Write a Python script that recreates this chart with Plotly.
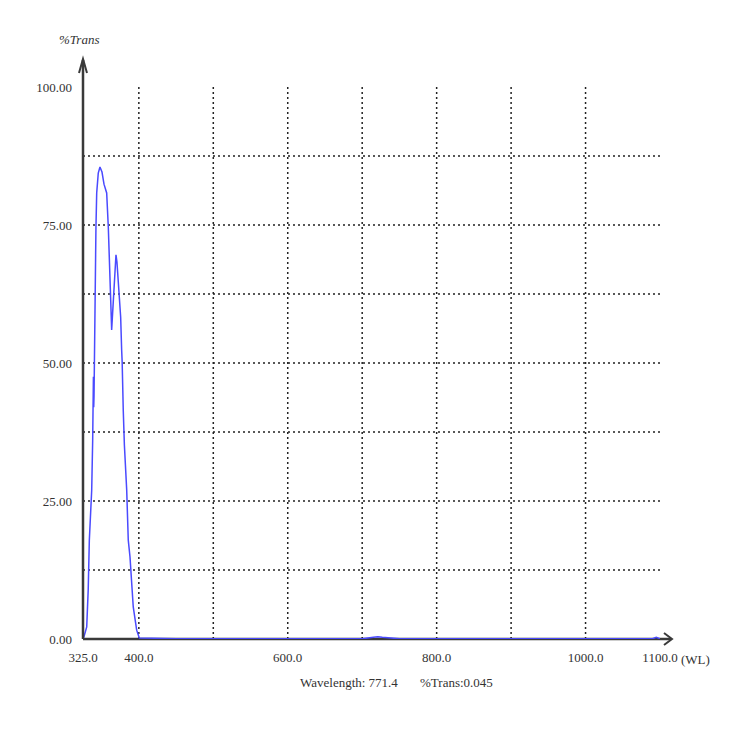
import plotly.graph_objects as go

# ---- data ----
wavelength = [325, 326.3, 330, 332, 333.5, 336.7, 338, 338.4, 339, 339.4, 339.8, 340.3,
              341.1, 342, 342.4, 343.4, 345.5, 347.8, 350.5, 353.2, 354.5, 356.8, 359,
              360.3, 362.2, 363.5, 365.7, 368, 369.3, 370.6, 372.4, 375.6, 376.9, 377.6,
              379.1, 380.6, 383.7, 385.8, 388.1, 392.5, 397.1, 400.6,
              450, 500, 550, 600, 650, 700, 715, 721, 727, 750, 800, 850, 900, 950,
              1000, 1050, 1090, 1095, 1100]
trans = [0.0, 0.4, 2.2, 8.9, 17.9, 27.0, 36.0, 41.5, 47.5, 42.0, 44.0, 53.4,
         58.5, 68.8, 74.6, 80.8, 84.4, 85.5, 84.6, 82.4, 81.9, 80.8, 74.6,
         70.5, 61.4, 56.0, 61.4, 68.7, 69.6, 68.3, 64.5, 58.3, 52.4, 50.2,
         41.3, 35.1, 27.0, 17.9, 14.9, 5.8, 1.6, 0.2,
         0.05, 0.04, 0.05, 0.04, 0.05, 0.05, 0.3, 0.4, 0.3, 0.05, 0.04, 0.05, 0.04, 0.05,
         0.05, 0.05, 0.05, 0.3, 0.05]

x_tick_vals = [325, 400, 600, 800, 1000, 1100]
x_tick_text = ["325.0", "400.0", "600.0", "800.0", "1000.0", "1100.0"]
y_tick_vals = [0, 25, 50, 75, 100]
y_tick_text = ["0.00", "25.00", "50.00", "75.00", "100.00"]
grid_x = [400, 500, 600, 700, 800, 900, 1000]
grid_y = [12.5, 25, 37.5, 50, 62.5, 75, 87.5]

y_title = "%Trans"
x_unit = "(WL)"
status_wl = "Wavelength: 771.4"
status_tr = "%Trans:0.045"

# ---- geometry (page pixels; the page body adds an 8px offset) ----
OFF = 8
W = H = 742
# plot area on page: x 83..660, y 87..639
L, T = 83 - OFF, 87 - OFF
R = W - (660 - OFF)
B = H - (639 - OFF)
PW, PH = W - L - R, H - T - B


def px(xp):
    return (xp - OFF - L) / PW


def py(yp):
    return (H - B - (yp - OFF)) / PH


FONT = "Liberation Serif"
TXT = "#333333"

fig = go.Figure()
fig.add_trace(go.Scatter(x=wavelength, y=trans, mode="lines",
                         line=dict(color="#4a4aff", width=1.5),
                         hoverinfo="skip", showlegend=False))

shapes = []
for gx in grid_x:
    shapes.append(dict(type="line", xref="x", yref="y", x0=gx, x1=gx, y0=0, y1=100,
                       line=dict(color="#222222", width=1.5, dash="2px,3px"), layer="below"))
for gy in grid_y:
    shapes.append(dict(type="line", xref="x", yref="y", x0=325, x1=1100, y0=gy, y1=gy,
                       line=dict(color="#222222", width=1.5, dash="2px,3px"), layer="below"))

AX = "#3a3a3a"
# y axis line with arrow
shapes.append(dict(type="line", xref="paper", yref="paper", x0=0, x1=0, y0=0, y1=py(60),
                   line=dict(color=AX, width=2.5)))
shapes.append(dict(type="path", xref="paper", yref="paper",
                   path=f"M {px(79)} {py(73)} L {px(83)} {py(59)} L {px(87)} {py(73)}",
                   line=dict(color=AX, width=2)))
# x axis line with arrow
shapes.append(dict(type="line", xref="paper", yref="paper", x0=0, x1=px(671), y0=0, y1=0,
                   line=dict(color=AX, width=2.5), layer="below"))
shapes.append(dict(type="path", xref="paper", yref="paper",
                   path=f"M {px(664)} {py(633)} L {px(672)} {py(639)} L {px(664)} {py(645)}",
                   line=dict(color=AX, width=2)))

annotations = [
    dict(text=f"<i>{y_title}</i>", xref="paper", yref="paper", x=px(79), y=py(40),
         xanchor="center", yanchor="middle",
         showarrow=False, font=dict(family=FONT, size=13, color=TXT)),
    dict(text=x_unit, xref="paper", yref="paper", x=px(679), y=py(659),
         xanchor="left", yanchor="middle",
         showarrow=False, font=dict(family=FONT, size=13, color=TXT)),
    dict(text=status_wl, xref="paper", yref="paper", x=px(298), y=py(682),
         xanchor="left", yanchor="middle",
         showarrow=False, font=dict(family=FONT, size=13, color=TXT)),
    dict(text=status_tr, xref="paper", yref="paper", x=px(418), y=py(682),
         xanchor="left", yanchor="middle",
         showarrow=False, font=dict(family=FONT, size=13, color=TXT)),
]

fig.update_layout(
    width=W, height=H,
    margin=dict(l=L, r=R, t=T, b=B, pad=0),
    paper_bgcolor="white", plot_bgcolor="white",
    showlegend=False,
    shapes=shapes, annotations=annotations,
    xaxis=dict(range=[325, 1100], tickvals=x_tick_vals, ticktext=x_tick_text,
               showgrid=False, zeroline=False, showline=False, ticks="",
               ticklabelstandoff=9,
               tickfont=dict(family=FONT, size=13, color=TXT), fixedrange=True),
    yaxis=dict(range=[0, 100], tickvals=y_tick_vals, ticktext=y_tick_text,
               showgrid=False, zeroline=False, showline=False, ticks="",
               ticklabelstandoff=10,
               tickfont=dict(family=FONT, size=13, color=TXT), fixedrange=True),
)

fig.write_html("out.html")
